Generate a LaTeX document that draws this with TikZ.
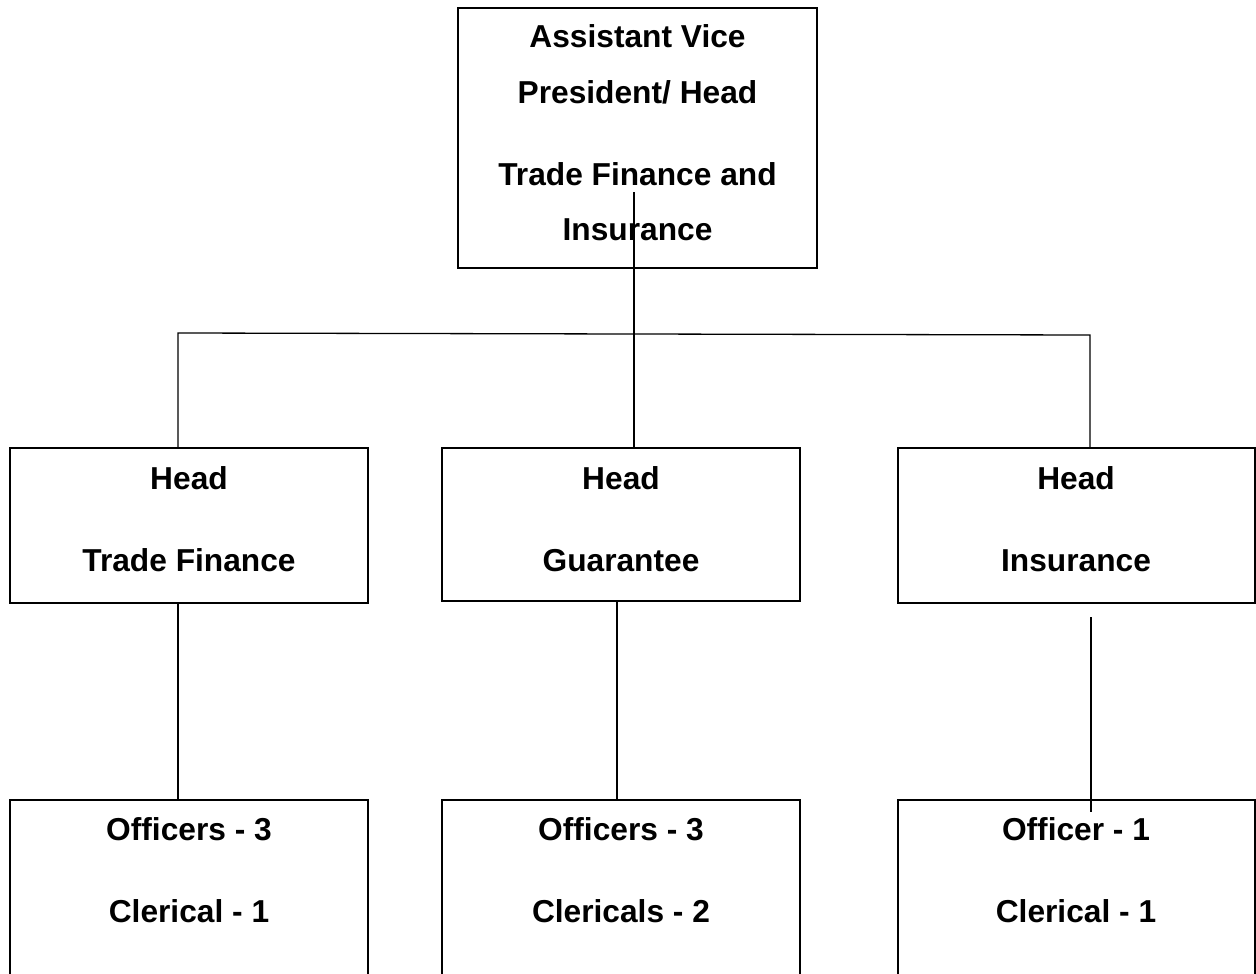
\documentclass[tikz,border=0pt]{standalone}
\usepackage{fontspec}
\setmainfont{Liberation Sans}
\begin{document}
\begin{tikzpicture}[x=1pt,y=-1pt,
  box/.style={draw, line width=1.6pt, rectangle, anchor=north west, inner sep=0pt, outer sep=0pt},
  lbl/.style={anchor=base, font=\fontsize{31.7}{38}\selectfont\bfseries, inner sep=0pt},
  conn/.style={line width=1.3pt}]
\useasboundingbox (0,0) rectangle (1256,974);
\clip (0,0) rectangle (1256,974);
% boxes
\node[box, minimum width=359pt, minimum height=260pt] (avp) at (458,8) {};
\node[box, minimum width=358pt, minimum height=155pt] (tf) at (10,448) {};
\node[box, minimum width=358pt, minimum height=153pt] (gu) at (442,448) {};
\node[box, minimum width=357pt, minimum height=155pt] (ins) at (898,448) {};
\node[box, minimum width=358pt, minimum height=220pt] (tfs) at (10,800) {};
\node[box, minimum width=358pt, minimum height=220pt] (gus) at (442,800) {};
\node[box, minimum width=357pt, minimum height=220pt] (inss) at (898,800) {};
% labels
\node[lbl] (avpa) at (637.5,48) {Assistant Vice};
\node[lbl] (avpb) at (637.5,103) {President/ Head};
\node[lbl] (avpc) at (637.5,185) {Trade Finance and};
\node[lbl] (avpd) at (637.5,240) {Insurance};
\node[lbl] (tfa) at (189,489) {Head};
\node[lbl] (tfb) at (189,571) {Trade Finance};
\node[lbl] (gua) at (621,489) {Head};
\node[lbl] (gub) at (621,571) {Guarantee};
\node[lbl] (insa) at (1076,489) {Head};
\node[lbl] (insb) at (1076,571) {Insurance};
\node[lbl] (tfsa) at (189,840) {Officers - 3};
\node[lbl] (tfsb) at (189,922) {Clerical - 1};
\node[lbl] (gusa) at (621,840) {Officers - 3};
\node[lbl] (gusb) at (621,922) {Clericals - 2};
\node[lbl] (inssa) at (1076,840) {Officer - 1};
\node[lbl] (inssb) at (1076,922) {Clerical - 1};
% connector points
\coordinate (avpin) at (634,192);
\coordinate (busL) at (178,333);
\coordinate (busR) at (1090,335);
\coordinate (guout) at (617,601);
\coordinate (insout) at (1091,617);
\coordinate (insin) at (1091,812);
% connectors
\draw[conn] (avpin) -- (avpin |- gu.north);
\draw[conn] (tf.north -| busL) -- (busL) -- (busR) -- (ins.north -| busR);
\draw[conn] (tf.south -| busL) -- (tfs.north -| busL);
\draw[conn] (guout) -- (guout |- gus.north);
\draw[conn] (insout) -- (insin);
\end{tikzpicture}
\end{document}
